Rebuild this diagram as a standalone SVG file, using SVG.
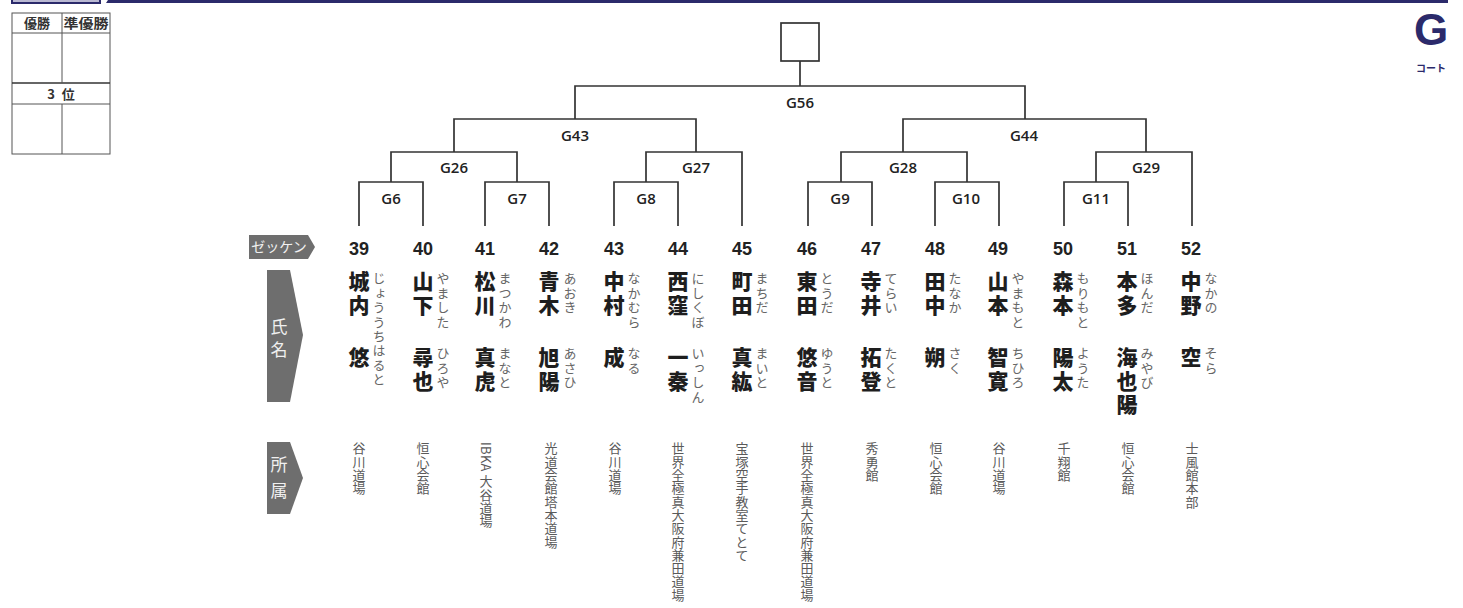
<svg xmlns="http://www.w3.org/2000/svg" width="1463" height="608" viewBox="0 0 1463 608">
<style>
.ln{stroke:#333;stroke-width:1.7;fill:none}
.tb{stroke:#555;stroke-width:1;fill:none}
.gl{font-family:"Open Sans","Liberation Sans",sans-serif;font-size:15px;font-weight:600;fill:#222;text-anchor:middle}
.num{font-family:"Liberation Sans",sans-serif;font-weight:bold;font-size:18px;fill:#222;text-anchor:middle}
.nm{font-family:"Noto Sans CJK JP",sans-serif;font-weight:900;font-size:21px;fill:#1e1e1e;writing-mode:vertical-rl;letter-spacing:2.5px}
.rb{font-family:"Noto Sans CJK JP",sans-serif;font-size:13px;fill:#666;writing-mode:vertical-rl;letter-spacing:1.4px}
.af{font-family:"Noto Sans CJK JP",sans-serif;font-size:13px;fill:#5a5a5a;writing-mode:vertical-rl;letter-spacing:0.3px}
.tag{fill:#6e6e6e}
.tagt{font-family:"Noto Sans CJK JP",sans-serif;fill:#f0f0f0;text-anchor:middle}
.tt{font-family:"Noto Sans CJK JP",sans-serif;font-size:13px;font-weight:bold;fill:#333;text-anchor:middle}
</style>
<rect width="1463" height="608" fill="#fff"/>
<g id="header">
<rect x="12" y="-6" width="88" height="9" fill="#b9b8d2" stroke="#2b2a6b" stroke-width="2"/>
<polygon points="108,0 1448,0 1448,3 106,3" fill="#2b2a6b"/>
</g>
<g id="result-table">
<rect class="tb" x="12" y="13" width="98" height="141"/>
<line class="tb" x1="12" y1="33" x2="110" y2="33"/>
<line class="tb" x1="12" y1="83" x2="110" y2="83" style="stroke:#333;stroke-width:1.4"/>
<line class="tb" x1="12" y1="104" x2="110" y2="104"/>
<line class="tb" x1="62" y1="13" x2="62" y2="83"/>
<line class="tb" x1="62" y1="104" x2="62" y2="154"/>
<text class="tt" x="37" y="28">優勝</text>
<text class="tt" x="86" y="28" textLength="45" lengthAdjust="spacingAndGlyphs">準優勝</text>
<text class="tt" x="61" y="99" word-spacing="4">3 位</text>
</g>
<g id="court">
<text x="1431" y="45" font-family="'Liberation Sans',sans-serif" font-weight="bold" font-size="44" fill="#2b2a6b" text-anchor="middle">G</text>
<text x="1431" y="72" font-family="'Noto Sans CJK JP',sans-serif" font-weight="bold" font-size="10" fill="#2b2a6b" text-anchor="middle">コート</text>
</g>
<g id="winner">
<rect class="ln" x="781" y="23" width="38" height="38"/>
</g>
<g id="connectors">
<path class="ln" d="M800,61V86M575,119V86H1025V119"/>
<path class="ln" d="M454,152V119H696V152M903,152V119H1146V152"/>
<path class="ln" d="M391,182V152H517V182M646,182V152H742V226M841,182V152H967V182M1096,182V152H1192V226"/>
<path class="ln" d="M359,226V182H423V226M485,226V182H549V226M614,226V182H678V226M808,226V182H872V226M935,226V182H999V226M1064,226V182H1128V226"/>
</g>
<g id="match-labels">
<text class="gl" x="800" y="108">G56</text>
<text class="gl" x="575" y="141">G43</text>
<text class="gl" x="1024" y="141">G44</text>
<text class="gl" x="454" y="173">G26</text>
<text class="gl" x="696" y="173">G27</text>
<text class="gl" x="903" y="173">G28</text>
<text class="gl" x="1146" y="173">G29</text>
<text class="gl" x="391" y="204">G6</text>
<text class="gl" x="517" y="204">G7</text>
<text class="gl" x="646" y="204">G8</text>
<text class="gl" x="840" y="204">G9</text>
<text class="gl" x="966" y="204">G10</text>
<text class="gl" x="1096" y="204">G11</text>
</g>
<g id="tag-zekken">
<polygon class="tag" points="249,235 308,235 315,247 308,259 249,259"/>
<text class="tagt" x="279" y="252" font-size="14">ゼッケン</text>
</g>
<g id="tag-name">
<polygon class="tag" points="267,270 290,270 303,335 290,402 267,402"/>
<text class="tagt" x="279" y="333" font-size="17">氏</text>
<text class="tagt" x="279" y="356" font-size="17">名</text>
</g>
<g id="tag-affil">
<polygon class="tag" points="267,442 290,442 303,478 290,514 267,514"/>
<text class="tagt" x="279" y="471" font-size="17">所</text>
<text class="tagt" x="279" y="497" font-size="17">属</text>
</g>
<g id="p39"><text class="num" x="359" y="255">39</text><text class="nm" x="359" y="271">城内</text><text class="nm" x="359" y="347">悠</text><text class="rb" x="379" y="272">じょううちはると</text><text class="af" x="359" y="442">谷川道場</text></g>
<g id="p40"><text class="num" x="423" y="255">40</text><text class="nm" x="423" y="271">山下</text><text class="nm" x="423" y="347">尋也</text><text class="rb" x="443" y="272">やました</text><text class="rb" x="443" y="347">ひろや</text><text class="af" x="423" y="442">恒心会館</text></g>
<g id="p41"><text class="num" x="485" y="255">41</text><text class="nm" x="485" y="271">松川</text><text class="nm" x="485" y="347">真虎</text><text class="rb" x="505" y="272">まつかわ</text><text class="rb" x="505" y="347">まなと</text><text class="af" x="486" y="442">IBKA 大谷道場</text></g>
<g id="p42"><text class="num" x="549" y="255">42</text><text class="nm" x="549" y="271">青木</text><text class="nm" x="549" y="347">旭陽</text><text class="rb" x="570" y="272">あおき</text><text class="rb" x="570" y="347">あさひ</text><text class="af" x="551" y="442">光道会館塔本道場</text></g>
<g id="p43"><text class="num" x="614" y="255">43</text><text class="nm" x="614" y="271">中村</text><text class="nm" x="614" y="347">成</text><text class="rb" x="634" y="272">なかむら</text><text class="rb" x="634" y="347">なる</text><text class="af" x="615" y="442">谷川道場</text></g>
<g id="p44"><text class="num" x="678" y="255">44</text><text class="nm" x="678" y="271">西窪</text><text class="nm" x="678" y="347">一秦</text><text class="rb" x="698" y="272">にしくぼ</text><text class="rb" x="698" y="347">いっしん</text><text class="af" x="678" y="442">世界全極真大阪府兼田道場</text></g>
<g id="p45"><text class="num" x="742" y="255">45</text><text class="nm" x="742" y="271">町田</text><text class="nm" x="742" y="347">真紘</text><text class="rb" x="762" y="272">まちだ</text><text class="rb" x="762" y="347">まいと</text><text class="af" x="742" y="442">宝塚空手教室てとて</text></g>
<g id="p46"><text class="num" x="807" y="255">46</text><text class="nm" x="807" y="271">東田</text><text class="nm" x="807" y="347">悠音</text><text class="rb" x="827" y="272">とうだ</text><text class="rb" x="827" y="347">ゆうと</text><text class="af" x="807" y="442">世界全極真大阪府兼田道場</text></g>
<g id="p47"><text class="num" x="871" y="255">47</text><text class="nm" x="871" y="271">寺井</text><text class="nm" x="871" y="347">拓登</text><text class="rb" x="891" y="272">てらい</text><text class="rb" x="891" y="347">たくと</text><text class="af" x="872" y="442">秀勇館</text></g>
<g id="p48"><text class="num" x="935" y="255">48</text><text class="nm" x="935" y="271">田中</text><text class="nm" x="935" y="347">朔</text><text class="rb" x="955" y="272">たなか</text><text class="rb" x="955" y="347">さく</text><text class="af" x="936" y="442">恒心会館</text></g>
<g id="p49"><text class="num" x="998" y="255">49</text><text class="nm" x="998" y="271">山本</text><text class="nm" x="998" y="347">智寛</text><text class="rb" x="1018" y="272">やまもと</text><text class="rb" x="1018" y="347">ちひろ</text><text class="af" x="999" y="442">谷川道場</text></g>
<g id="p50"><text class="num" x="1063" y="255">50</text><text class="nm" x="1063" y="271">森本</text><text class="nm" x="1063" y="347">陽太</text><text class="rb" x="1083" y="272">もりもと</text><text class="rb" x="1083" y="347">ようた</text><text class="af" x="1064" y="442">千翔館</text></g>
<g id="p51"><text class="num" x="1127" y="255">51</text><text class="nm" x="1127" y="271">本多</text><text class="nm" x="1127" y="347">海也陽</text><text class="rb" x="1147" y="272">ほんだ</text><text class="rb" x="1147" y="347">みやび</text><text class="af" x="1128" y="442">恒心会館</text></g>
<g id="p52"><text class="num" x="1191" y="255">52</text><text class="nm" x="1191" y="271">中野</text><text class="nm" x="1191" y="347">空</text><text class="rb" x="1211" y="272">なかの</text><text class="rb" x="1211" y="347">そら</text><text class="af" x="1192" y="442">士風館本部</text></g>
</svg>
